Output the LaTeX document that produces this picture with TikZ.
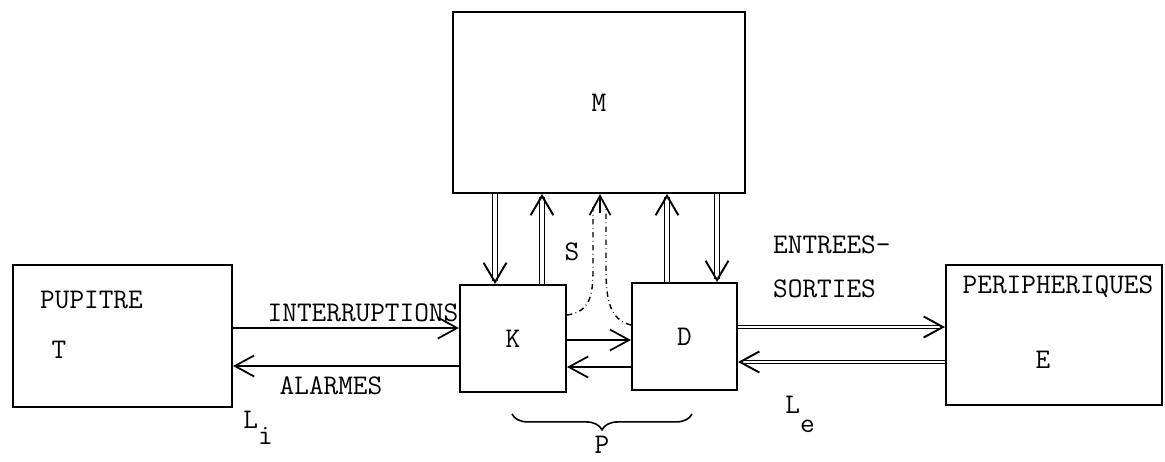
\documentclass[tikz,border=0pt]{standalone}
\usetikzlibrary{arrows.meta,decorations.pathreplacing}

\begin{document}
\begin{tikzpicture}[x=0.02cm,y=-0.02cm,
  font=\ttfamily\fontsize{16.2}{19}\selectfont,
  box/.style={draw, line width=1.2pt, inner sep=0pt},
  bus/.style={double, line width=0.7pt, double distance=2.4pt,
    -{Straight Barb[length=11pt,width=13pt,line width=1.1pt]}},
  link/.style={double, line width=0.8pt, double distance=1.2pt,
    -{Straight Barb[length=11pt,width=12pt,line width=1.1pt]}},
  sig/.style={line width=1pt, -{Straight Barb[length=11pt,width=12pt]}},
  trace/.style={dash dot, line width=0.8pt}]
  \useasboundingbox (0,0) rectangle (1165,461);

  % Memory M
  \node[box, minimum width=5.84cm, minimum height=3.62cm] (M) at (599,102.5) {M};

  % Units K and D
  \node[box, minimum width=2.12cm, minimum height=2.14cm] (K) at (513,338.5) {K};
  \node[box, minimum width=2.1cm, minimum height=2.14cm] (D) at (684.5,336.5) {D};

  % Console T
  \node[box, minimum width=4.38cm, minimum height=2.84cm] (T) at (122.5,336) {};
  \node[anchor=west] (pup) at (34,300) {PUPITRE};
  \node (tlbl) at (59,350) {T};

  % Peripherals E
  \node[box, minimum width=4.32cm, minimum height=2.8cm] (E) at (1054,335) {};
  \node (per) at (1058,287) {PERIPHERIQUES};
  \node (elbl) at (1043,360) {E};

  % T <-> K
  \draw[sig] (T.east |- 0,328) -- (K.west |- 0,328);
  \draw[sig] (K.west |- 0,366) -- (T.east |- 0,366);
  \node (int) at (363,313) {INTERRUPTIONS};
  \node (alm) at (331,386) {ALARMES};
  \node[anchor=base west, inner sep=0pt] (li) at (243,428) {L\raisebox{-9.6pt}{i}};

  % K <-> D
  \draw[sig] (K.east |- 0,340) -- (D.west |- 0,340);
  \draw[sig] (D.west |- 0,367) -- (K.east |- 0,367);

  % D <-> E
  \draw[link] (D.east |- 0,327) -- (E.west |- 0,327);
  \draw[link] (E.west |- 0,362) -- (D.east |- 0,362);
  \node[anchor=west] (es1) at (767,245) {ENTREES-};
  \node[anchor=west] (es2) at (767,289) {SORTIES};
  \node[anchor=base west, inner sep=0pt] (le) at (785,413) {L\raisebox{-11.3pt}{e}};

  % M <-> K, D
  \draw[bus] (M.south -| 495,0) -- (K.north -| 495,0);
  \draw[bus] (K.north -| 542,0) -- (M.south -| 542,0);
  \draw[bus] (D.north -| 667,0) -- (M.south -| 667,0);
  \draw[bus] (M.south -| 717,0) -- (D.north -| 717,0);

  % S path
  \coordinate (s) at (600,213);
  \draw[trace] (K.east |- 0,315) .. controls (590,312) and (593,295) .. (593,270) -- (593,207);
  \draw[trace] (D.west |- 0,325) .. controls (610,320) and (606,300) .. (606,270) -- (606,207);
  \draw[sig] (s) -- (M.south -| s);
  \node (slbl) at (572,252) {S};

  % P brace
  \coordinate (pl) at (512,414);
  \coordinate (pr) at (692,414);
  \draw[decorate, decoration={brace, mirror, amplitude=9pt}, line width=0.9pt] (pl) -- (pr);
  \node[inner sep=0pt] (plbl) at (602,445) {P};
\end{tikzpicture}
\end{document}
